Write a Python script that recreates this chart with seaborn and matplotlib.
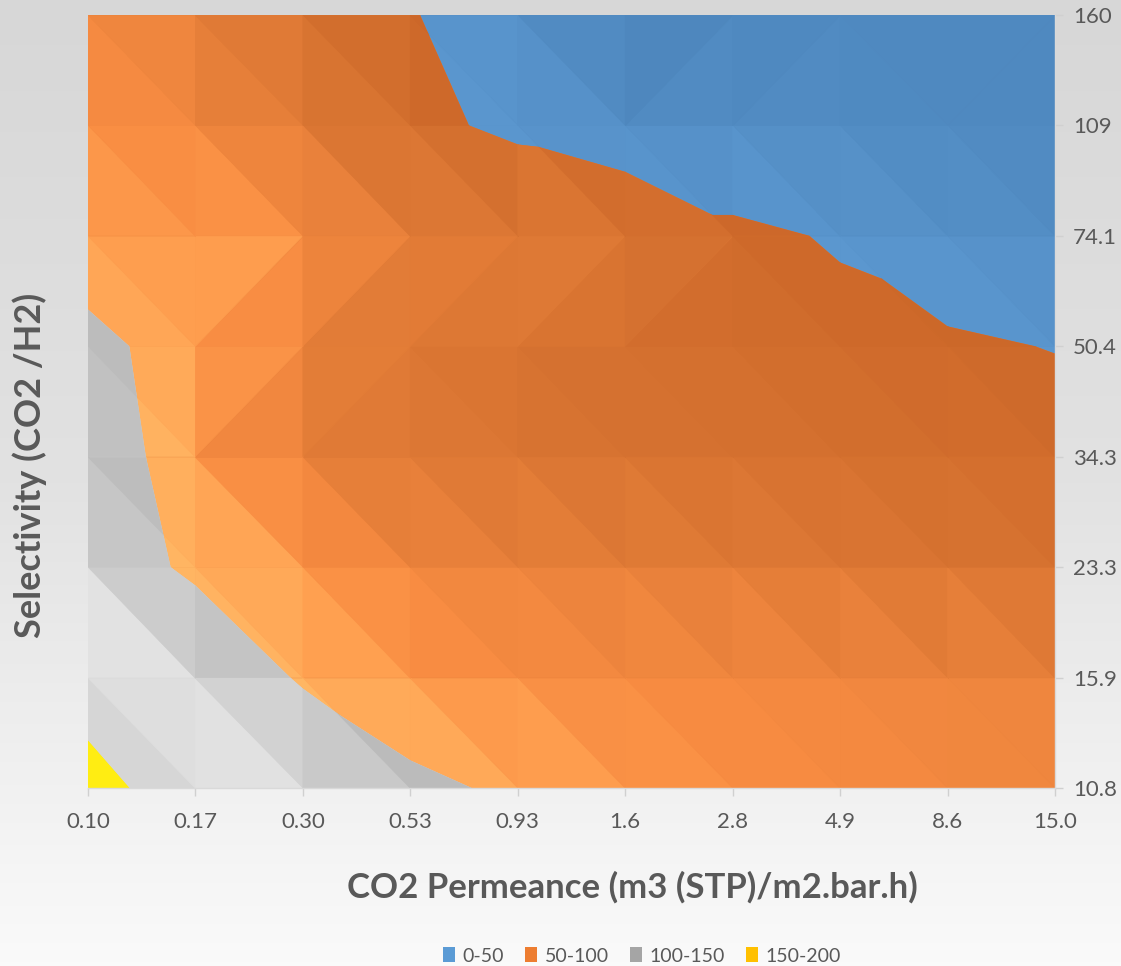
import numpy as np
import matplotlib
matplotlib.use("Agg")
import matplotlib.pyplot as plt
import seaborn as sns
from matplotlib.tri import Triangulation
from matplotlib.collections import PolyCollection
from matplotlib.colors import LinearSegmentedColormap
from matplotlib.patches import Patch

# ---------------- data ----------------
x_labels = ["0.10", "0.17", "0.30", "0.53", "0.93", "1.6", "2.8", "4.9", "8.6", "15.0"]
y_labels = ["10.8", "15.9", "23.3", "34.3", "50.4", "74.1", "109", "160"]
band_labels = ["0-50", "50-100", "100-150", "150-200"]
band_levels = [0, 50, 100, 150, 200]

# rows from bottom (selectivity 10.8) to top (160); columns follow x_labels
z_10_8 = [165, 126, 118, 104, 97, 90, 86, 84, 82, 80]
z_15_9 = [130, 115, 98, 88, 85, 84, 83, 82, 80, 80]
z_23_3 = [110, 97, 90, 82, 78, 75, 72, 68, 65, 62]
z_34_3 = [107, 94, 74, 68, 65, 62, 62, 60, 58, 57]
z_50_4 = [105, 92, 76, 68, 62, 60, 58, 54.4, 52.2, 49.5]
z_74_1 = [90, 92, 88, 72, 74, 70.7, 53.5, 48.6, 40, 35]
z_109 = [85, 80, 70, 56, 45, 35, 35, 30, 28, 28]
z_160 = [85, 75, 65, 51, 40, 15, 20, 25, 25, 25]

Z = np.array([z_10_8, z_15_9, z_23_3, z_34_3, z_50_4, z_74_1, z_109, z_160], dtype=float)

# ---------------- style ----------------
sns.set_theme(style="white")
plt.rcParams["font.family"] = ["Lato", "DejaVu Sans"]
text_col = "#595959"

legend_colors = ["#5b9bd5", "#ed7d31", "#a5a5a5", "#ffc000"]
base_colors = ["#4f87bd", "#e07a35", "#d2d2d2", "#ffed12"]
band_cmaps = [
    LinearSegmentedColormap.from_list("b", [(0, "#4880b3"), (0.5, "#4e88bf"), (1, "#5b97cf")]),
    LinearSegmentedColormap.from_list("o", [(0, "#cc6729"), (0.24, "#d67230"), (0.5, "#e67f39"),
                                            (0.7, "#f88c42"), (0.84, "#ffa050"), (1, "#ffb865")]),
    LinearSegmentedColormap.from_list("g", [(0, "#b8b8b8"), (0.15, "#cacaca"), (0.35, "#e2e2e2"),
                                            (1, "#cccccc")]),
    LinearSegmentedColormap.from_list("y", [(0, "#ffed12"), (1, "#ffed12")]),
]

W, H = 1121, 966
fig = plt.figure(figsize=(W / 100, H / 100), dpi=100)

# background gradient
bg = fig.add_axes([0, 0, 1, 1], zorder=-10)
grad = np.linspace(0, 1, 256).reshape(-1, 1)
bg.imshow(grad, aspect="auto", cmap=LinearSegmentedColormap.from_list("bg", ["#d7d7d7", "#e2e2e2", "#fafafa"]),
          extent=[0, 1, 0, 1], origin="upper")
bg.set_axis_off()

ax = fig.add_axes([88 / W, 1 - 788 / H, 967 / W, 773 / H])
ax.set_facecolor("none")

nr, nc = Z.shape
xx, yy = np.meshgrid(np.arange(nc), np.arange(nr))
zf = Z.ravel()
tris = []
for r in range(nr - 1):
    for c in range(nc - 1):
        a = r * nc + c
        b = a + 1
        d = a + nc
        e = d + 1
        if abs(zf[a] - zf[e]) <= abs(zf[b] - zf[d]):
            tris += [(a, b, e), (a, e, d)]
        else:
            tris += [(a, b, d), (b, e, d)]
tris = np.array(tris)
px, py = xx.ravel().astype(float), yy.ravel().astype(float)
tri = Triangulation(px, py, tris)

tcs = ax.tricontourf(tri, zf, levels=band_levels, colors=base_colors, zorder=1)
paths = tcs.get_paths()

verts = np.stack([px[tris], py[tris]], axis=-1)
zt = zf[tris]
zmin, zmax = zt.min(axis=1), zt.max(axis=1)
for k in range(4):
    lo, hi = band_levels[k], band_levels[k + 1]
    sel = (zmax >= lo) & (zmin <= hi)
    if not sel.any():
        continue
    zc = np.clip(zt, lo, hi).mean(axis=1)
    cols = band_cmaps[k]((zc - lo) / (hi - lo))[sel]
    pc = PolyCollection(verts[sel], facecolors=cols, edgecolors=cols, linewidths=0.5, zorder=2)
    ax.add_collection(pc)
    pc.set_clip_path(paths[k], ax.transData)

ax.set_xlim(0, nc - 1)
ax.set_ylim(0, nr - 1)
ax.set_xticks(np.arange(nc))
ax.set_xticklabels(x_labels)
ax.set_yticks(np.arange(nr))
ax.set_yticklabels(y_labels)
ax.yaxis.tick_right()
ax.tick_params(axis="x", length=6, width=1, color="#d0d0d0", labelcolor=text_col, labelsize=16, pad=11, bottom=True)
ax.tick_params(axis="y", length=6, width=1, color="#d0d0d0", labelcolor=text_col, labelsize=16, pad=7, right=True, left=False)
for s in ["top", "left"]:
    ax.spines[s].set_visible(False)
for s in ["bottom", "right"]:
    ax.spines[s].set_color("#d9d9d9")
    ax.spines[s].set_linewidth(1)
    ax.spines[s].set_zorder(5)
ax.grid(False)

fig.text(632 / W, 1 - 887 / H, "CO2 Permeance (m3 (STP)/m2.bar.h)", ha="center", va="center",
         fontsize=25, fontweight="bold", color=text_col)
fig.text(30 / W, 1 - 465 / H, "Selectivity (CO2 /H2)", ha="center", va="center", rotation=90,
         fontsize=26, fontweight="bold", color=text_col)

handles = [Patch(facecolor=c, edgecolor="none") for c in legend_colors]
fig.legend(handles, band_labels, loc="center", bbox_to_anchor=(642 / W, 1 - 956 / H), ncol=4,
           frameon=False, fontsize=14, labelcolor=text_col, handlelength=0.6, handleheight=0.8,
           handletextpad=0.4, columnspacing=1.1)

fig.savefig("out.png", dpi=100)
